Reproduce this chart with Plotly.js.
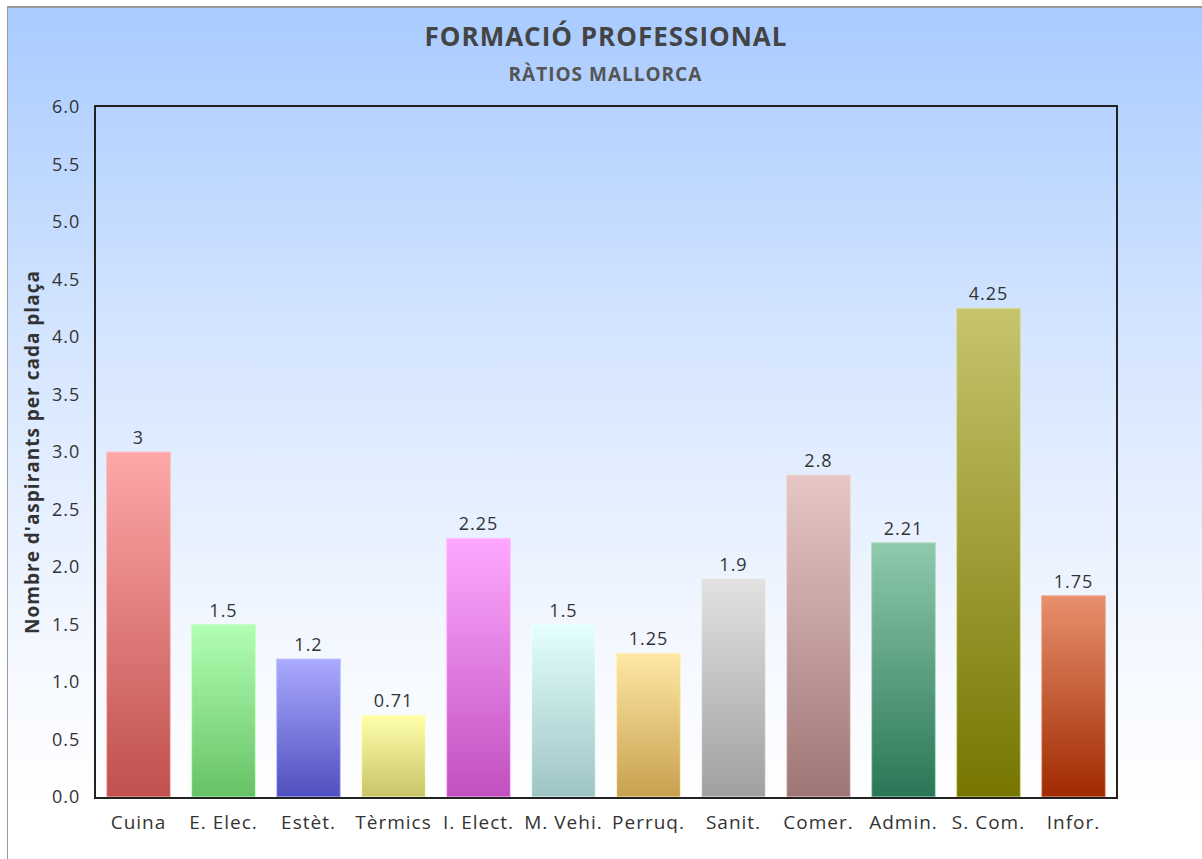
<!DOCTYPE html>
<html>
<head>
<meta charset="utf-8">
<script src="https://cdn.plot.ly/plotly-3.0.1.min.js"></script>
<style>
  html, body { margin:0; padding:0; background:#fff; width:1202px; height:859px; overflow:hidden; }
  #wrap { position:absolute; left:7px; top:6px; width:1195px; height:853px;
          border-left:1px solid #9a9a9a; border-top:2px solid #9a9a9a;
          background: linear-gradient(to bottom, #a9cbff 0%, #d6e6ff 40%, #f4f8ff 75%, #ffffff 93%, #ffffff 100%); }
  #chart { width:1194px; height:851px; }
  #chart text { letter-spacing: 1px; }
</style>
</head>
<body>
<div id="wrap"><div id="chart"></div></div>
<script>
const categories = ["Cuina","E. Elec.","Estèt.","Tèrmics","I. Elect.","M. Vehi.","Perruq.","Sanit.","Comer.","Admin.","S. Com.","Infor."];
const ratios = [3, 1.5, 1.2, 0.71, 2.25, 1.5, 1.25, 1.9, 2.8, 2.21, 4.25, 1.75];
const valueLabels = ["3","1.5","1.2","0.71","2.25","1.5","1.25","1.9","2.8","2.21","4.25","1.75"];
const yTicks = [0,0.5,1,1.5,2,2.5,3,3.5,4,4.5,5,5.5,6];
const yTickText = ["0.0","0.5","1.0","1.5","2.0","2.5","3.0","3.5","4.0","4.5","5.0","5.5","6.0"];

const topColors    = ["#fda8a8","#b3ffb3","#aaaaff","#ffffaa","#ffa8ff","#e4ffff","#ffe8a4","#e2e2e2","#e8c6c6","#8fcaac","#c6c46e","#e8906e"];
const bottomColors = ["#c0504d","#66c266","#4f4fbf","#c8c46a","#c050c0","#9fc4c4","#c8a050","#a0a0a0","#9e7676","#2a7656","#767600","#a02a00"];
const edgeColors   = ["#fbc0c0","#c8ffc8","#c4c4ff","#ffffc8","#ffc4ff","#f0ffff","#fff0c0","#eeeeee","#f0d8d8","#b0dcc4","#dcdc98","#f0b098"];

const font = "'Open Sans', 'Noto Sans', sans-serif";

const trace = {
  type: 'bar',
  x: categories,
  y: ratios,
  text: valueLabels,
  textposition: 'outside',
  texttemplate: '%{text}',
  cliponaxis: false,
  textfont: {family: font, size: 18, color: '#333333'},
  marker: {color: bottomColors, line: {color: edgeColors, width: 1}},
  hoverinfo: 'x+y'
};

const layout = {
  width: 1194, height: 851,
  margin: {l: 88, r: 86, t: 99, b: 62},
  paper_bgcolor: 'rgba(0,0,0,0)',
  plot_bgcolor: 'rgba(0,0,0,0)',
  bargap: 0.25,
  showlegend: false,
  font: {family: font, color: '#333333'},
  title: {
    text: '<b>FORMACIÓ PROFESSIONAL</b>',
    font: {family: font, size: 26, color: '#444444'},
    x: 0.5, xref: 'paper', xanchor: 'center',
    y: 0.966, yref: 'container', yanchor: 'middle'
  },
  annotations: [{
    text: '<b>RÀTIOS MALLORCA</b>',
    xref: 'paper', yref: 'paper', x: 0.5, y: 1.048,
    xanchor: 'center', yanchor: 'middle', showarrow: false,
    font: {family: font, size: 19, color: '#555555'}
  }],
  xaxis: {
    type: 'category',
    showline: true, linecolor: '#222222', linewidth: 2, mirror: true,
    showgrid: false, zeroline: false, ticks: '',
    ticklabelstandoff: 7,
    tickfont: {family: font, size: 19, color: '#333333'},
    fixedrange: true
  },
  yaxis: {
    range: [0, 6],
    tickvals: yTicks, ticktext: yTickText,
    showline: true, linecolor: '#222222', linewidth: 2, mirror: true,
    showgrid: false, zeroline: false, ticks: '',
    ticklabelstandoff: 10,
    tickfont: {family: font, size: 18, color: '#333333'},
    title: {text: "<b>Nombre d'aspirants per cada plaça</b>", font: {family: font, size: 19, color: '#333333'}, standoff: 10},
    automargin: false,
    fixedrange: true
  }
};

Plotly.newPlot('chart', [trace], layout, {displayModeBar: false, staticPlot: true}).then(function(gd) {
  const svg = gd.querySelector('.main-svg');
  const NS = 'http://www.w3.org/2000/svg';
  let defs = svg.querySelector('defs');
  if (!defs) { defs = document.createElementNS(NS, 'defs'); svg.insertBefore(defs, svg.firstChild); }
  const paths = gd.querySelectorAll('.barlayer .point path');
  paths.forEach(function(p, i) {
    const g = document.createElementNS(NS, 'linearGradient');
    g.setAttribute('id', 'bargrad' + i);
    g.setAttribute('x1', '0'); g.setAttribute('y1', '0');
    g.setAttribute('x2', '0'); g.setAttribute('y2', '1');
    const s1 = document.createElementNS(NS, 'stop');
    s1.setAttribute('offset', '0'); s1.setAttribute('stop-color', topColors[i]);
    const s2 = document.createElementNS(NS, 'stop');
    s2.setAttribute('offset', '1'); s2.setAttribute('stop-color', bottomColors[i]);
    g.appendChild(s1); g.appendChild(s2);
    defs.appendChild(g);
    p.style.fill = 'url(#bargrad' + i + ')';
  });
});
</script>
</body>
</html>
